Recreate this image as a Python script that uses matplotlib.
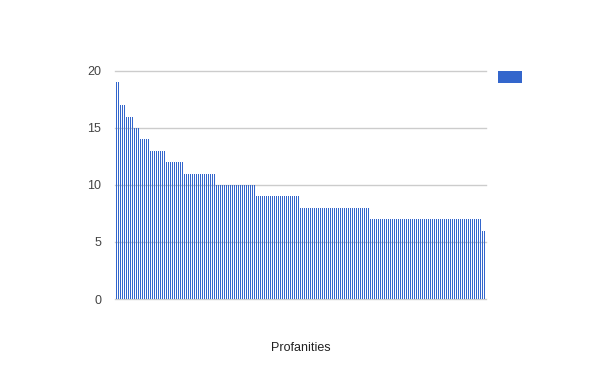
import matplotlib
matplotlib.use("Agg")
import matplotlib.pyplot as plt
from matplotlib.patches import Rectangle
import numpy as np

# value levels and how many bars sit at each level
levels = [19, 17, 16, 15, 14, 13, 12, 11, 10, 9, 8, 7, 6]
counts = [2, 3, 4, 3, 5, 8, 9, 16, 20, 22, 35, 56, 2]
values = [v for v, c in zip(levels, counts) for _ in range(c)]
y_ticks = [0, 5, 10, 15, 20]
x_label = "Profanities"

plt.rcParams['font.family'] = ['Liberation Sans', 'DejaVu Sans']

W, H = 600, 371
N = len(values)
fig = plt.figure(figsize=(W / 100, H / 100), dpi=100)
ax = fig.add_axes([116 / W, 1 - 299 / H, (2 * N) / W, (299 - 71) / H])

x = np.arange(N)
ax.bar(x, values, width=0.5, align='edge', color='#3366cc', linewidth=0,
       antialiased=False, zorder=2)

ax.set_xlim(0, N)
ax.set_ylim(0, 20)
ax.set_yticks(y_ticks)
ax.set_yticklabels([str(t) for t in y_ticks], fontsize=9, color='#444444')
ax.set_xticks([])
ax.tick_params(axis='y', length=0, pad=10.5)
for s in ax.spines.values():
    s.set_visible(False)
ax.set_axisbelow(True)

# gridlines spanning the full plot area (115..486 px)
for t in y_ticks:
    ax.axhline(t, xmin=-1 / (2 * N), xmax=(486 - 116) / (2 * N), color='#cccccc',
               linewidth=1, zorder=0, clip_on=False)

ax.set_xlabel(x_label, fontsize=9, color='#222222', labelpad=31)

fig.add_artist(Rectangle((498 / W, 1 - 83 / H), 24 / W, 12 / H,
                         transform=fig.transFigure, color='#3366cc', linewidth=0))

fig.savefig("out.png", dpi=100)
